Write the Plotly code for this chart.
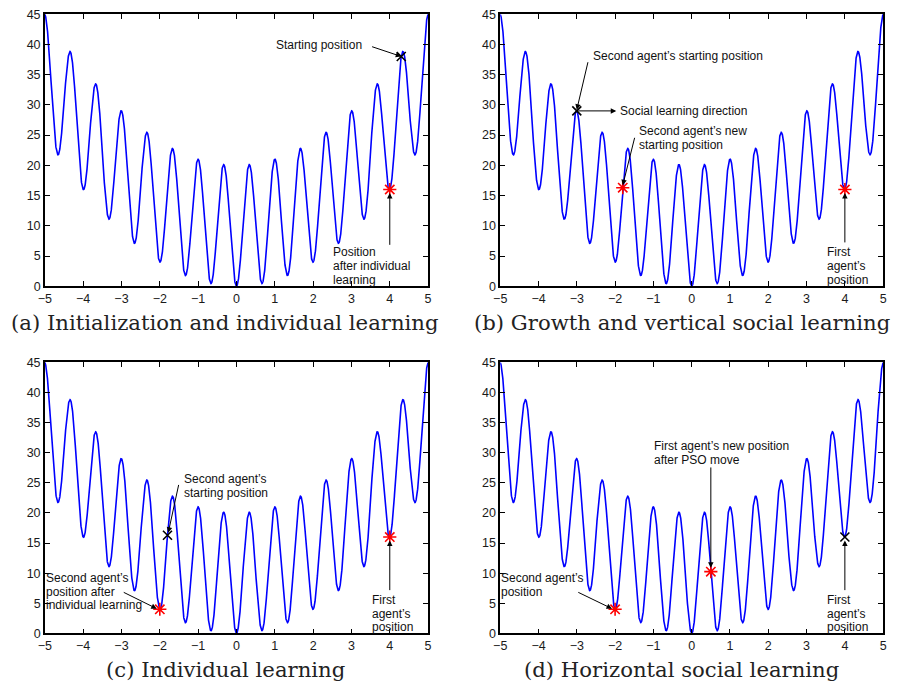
import numpy as np
import plotly.graph_objects as go

# ---- objective: multimodal test function f(x) = A + x^2 - A*cos(k*pi*x) ----
AMPLITUDE = 10.0
FREQ = 3.0
x_range = [-5, 5]
y_range = [0, 45]
x_ticks = [-5, -4, -3, -2, -1, 0, 1, 2, 3, 4, 5]
y_ticks = [0, 5, 10, 15, 20, 25, 30, 35, 40, 45]

captions = [
    "(a) Initialization and individual learning",
    "(b) Growth and vertical social learning",
    "(c) Individual learning",
    "(d) Horizontal social learning",
]

# agent positions per panel: black crosses = starting points, red stars = learned points
start_x = [[4.3], [-3.0], [-1.8], [4.0]]
start_y = [[38.0], [29.0], [16.3], [16.0]]
learned_x = [[4.0], [-1.8, 4.0], [-2.0, 4.0], [-2.0, 0.5]]
learned_y = [[16.0], [16.3, 16.0], [4.0, 16.0], [4.0, 10.25]]


def objective(x):
    return AMPLITUDE + x ** 2 - AMPLITUDE * np.cos(FREQ * np.pi * x)


xs = np.linspace(x_range[0], x_range[1], 4001)
ys = objective(xs)

W, H = 901, 692
# panel frames in pixels: (left, right, top, bottom)
frames = [
    (38.3, 426.3, 7.3, 285.0),
    (499.3, 887.0, 7.3, 285.0),
    (38.3, 426.3, 362.7, 639.3),
    (499.3, 887.0, 362.7, 639.3),
]

fig = go.Figure()
TICK_FONT = dict(family="Liberation Sans, Arial, sans-serif", size=12.5, color="#1a1a1a")
NOTE_FONT = dict(family="Liberation Sans, Arial, sans-serif", size=12, color="#111")

layout = {}
for i, (l, r, t, b) in enumerate(frames):
    k = "" if i == 0 else str(i + 1)
    xa, ya = "x" + k, "y" + k
    layout["xaxis" + k] = dict(
        domain=[l / W, r / W], anchor=ya, range=x_range, tickvals=x_ticks,
        ticks="inside", ticklen=5, tickwidth=1, tickcolor="black",
        showline=True, linecolor="black", linewidth=1.5, mirror="ticks",
        showgrid=False, zeroline=False, tickfont=TICK_FONT,
    )
    layout["yaxis" + k] = dict(
        domain=[1 - b / H, 1 - t / H], anchor=xa, range=y_range, tickvals=y_ticks,
        ticks="inside", ticklen=5, tickwidth=1, tickcolor="black",
        showline=True, linecolor="black", linewidth=1.5, mirror="ticks",
        showgrid=False, zeroline=False, tickfont=TICK_FONT,
    )
    fig.add_trace(go.Scatter(x=xs, y=ys, mode="lines", xaxis=xa, yaxis=ya,
                             line=dict(color="#0000ff", width=1.6), hoverinfo="skip"))
    fig.add_trace(go.Scatter(x=start_x[i], y=start_y[i], mode="markers", xaxis=xa, yaxis=ya,
                             marker=dict(symbol="x-thin-open", size=9, color="black",
                                         line=dict(color="black", width=1.6))))
    fig.add_trace(go.Scatter(x=learned_x[i], y=learned_y[i], mode="markers", xaxis=xa, yaxis=ya,
                             marker=dict(symbol="asterisk-open", size=11, color="#ff0000",
                                         line=dict(color="#ff0000", width=1.6))))

annotations = []
LINE_STEP = 2.25  # vertical spacing between label lines, in data units


def note(panel, x, y, lines):
    k = "" if panel == 0 else str(panel + 1)
    for j, txt in enumerate(lines):
        annotations.append(dict(
            xref="x" + k, yref="y" + k, x=x, y=y - j * LINE_STEP, text=txt,
            showarrow=False, xanchor="left", yanchor="middle", font=NOTE_FONT,
            borderpad=0))


def arrow(panel, x0, y0, x1, y1):
    k = "" if panel == 0 else str(panel + 1)
    annotations.append(dict(
        xref="x" + k, yref="y" + k, axref="x" + k, ayref="y" + k,
        x=x1, y=y1, ax=x0, ay=y0, text="", showarrow=True,
        arrowhead=2, arrowsize=1.1, arrowwidth=1, arrowcolor="black", standoff=0))


# (a)
note(0, 1.0, 39.9, ["Starting position"])
arrow(0, 3.5, 39.7, 4.3, 38.0)
note(0, 2.5, 5.6, ["Position", "after individual", "learning"])
arrow(0, 4.0, 6.6, 4.0, 15.4)

# (b)
note(1, -2.59, 38.0, ["Second agent\u2019s starting position"])
arrow(1, -2.7, 37.3, -3.0, 29.2)
arrow(1, -3.0, 29.0, -1.97, 29.0)
note(1, -1.89, 28.9, ["Social learning direction"])
note(1, -1.39, 25.6, ["Second agent\u2019s new", "starting position"])
arrow(1, -1.48, 24.8, -1.8, 16.7)
note(1, 3.51, 5.6, ["First", "agent\u2019s", "position"])
arrow(1, 4.0, 7.0, 4.0, 15.4)

# (c)
note(2, -1.39, 25.6, ["Second agent\u2019s", "starting position"])
arrow(2, -1.5, 24.9, -1.78, 16.7)
note(2, -5.0, 9.2, ["Second agent\u2019s", "position after", "individual learning"])
arrow(2, -2.98, 6.93, -2.08, 4.1)
note(2, 3.51, 5.5, ["First", "agent\u2019s", "position"])
arrow(2, 4.0, 6.93, 4.0, 15.4)

# (d)
note(3, -1.0, 31.05, ["First agent\u2019s new position", "after PSO move"])
arrow(3, 0.5, 27.8, 0.5, 10.9)
note(3, -5.0, 9.2, ["Second agent\u2019s", "position"])
arrow(3, -3.0, 6.93, -2.08, 4.1)
note(3, 3.51, 5.5, ["First", "agent\u2019s", "position"])
arrow(3, 4.0, 6.93, 4.0, 15.4)

# sub-figure captions
CAP_FONT = dict(family="DejaVu Serif, serif", size=21.2, color="#222")
cap_pos = [(221, 322), (683, 322), (221, 676), (683, 676)]
for txt, (cx, cy) in zip(captions, cap_pos):
    annotations.append(dict(xref="paper", yref="paper", x=cx / W, y=1 - cy / H,
                            text=txt, showarrow=False, xanchor="center",
                            yanchor="middle", font=CAP_FONT))

fig.update_layout(
    **layout,
    annotations=annotations,
    width=W, height=H,
    margin=dict(l=0, r=0, t=0, b=0),
    paper_bgcolor="white", plot_bgcolor="white",
    showlegend=False,
)

fig.write_html("out.html", config={"displayModeBar": False})
